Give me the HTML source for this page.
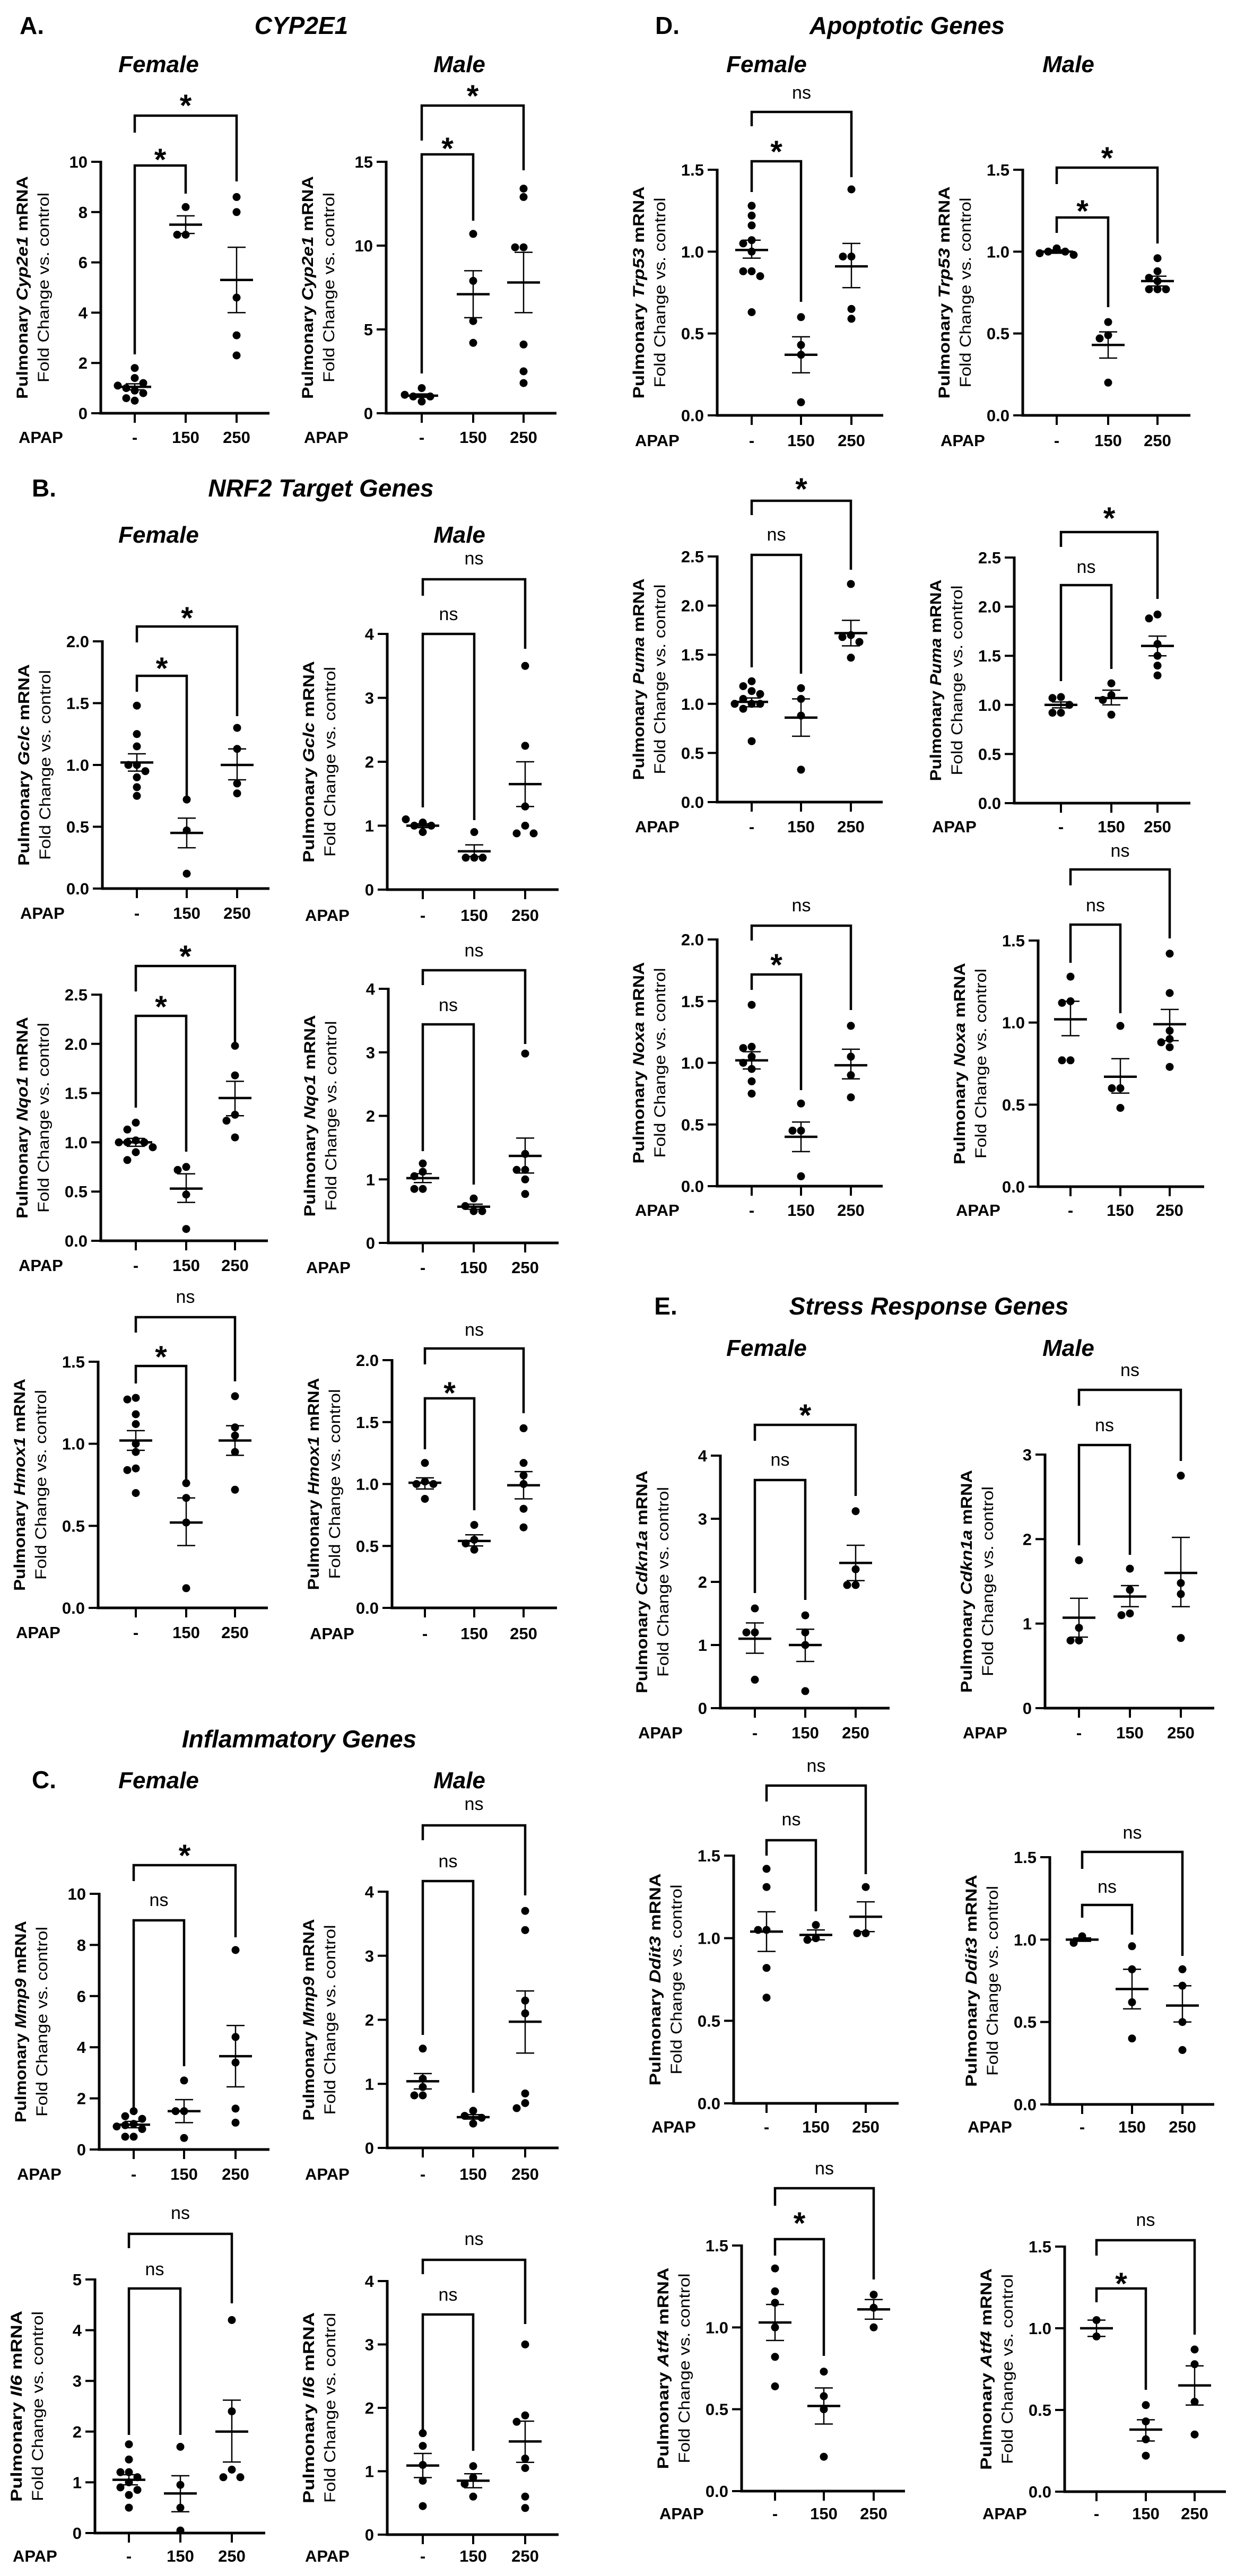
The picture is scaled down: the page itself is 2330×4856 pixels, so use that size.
<!DOCTYPE html>
<html><head><meta charset="utf-8">
<style>
html,body{margin:0;padding:0;background:#fff;}
svg{display:block;}
text{font-family:"Liberation Sans",Arial,sans-serif;fill:#000;}
</style></head>
<body>
<svg id="s" xmlns="http://www.w3.org/2000/svg" width="2330" height="4856" viewBox="0 0 2330 4856">
<rect width="2330" height="4856" fill="#fff"/>
<g font-weight="bold" font-size="46">
<text x="60" y="64" text-anchor="middle">A.</text>
<text x="568" y="64" text-anchor="middle" font-style="italic">CYP2E1</text>
<text x="83" y="936" text-anchor="middle">B.</text>
<text x="605" y="936" text-anchor="middle" font-style="italic">NRF2 Target Genes</text>
<text x="564" y="3294" text-anchor="middle" font-style="italic">Inflammatory Genes</text>
<text x="83" y="3371" text-anchor="middle">C.</text>
<text x="1258" y="64" text-anchor="middle">D.</text>
<text x="1710" y="64" text-anchor="middle" font-style="italic">Apoptotic Genes</text>
<text x="1255" y="2478" text-anchor="middle">E.</text>
<text x="1751" y="2478" text-anchor="middle" font-style="italic">Stress Response Genes</text>
</g>
<g font-weight="bold" font-style="italic" font-size="44" text-anchor="middle">
<text x="299" y="136">Female</text><text x="866" y="136">Male</text>
<text x="299" y="1023">Female</text><text x="866" y="1023">Male</text>
<text x="299" y="3371">Female</text><text x="866" y="3371">Male</text>
<text x="1445" y="136">Female</text><text x="2014" y="136">Male</text>
<text x="1445" y="2556">Female</text><text x="2014" y="2556">Male</text>
</g>
<g id="charts"></g>
</svg>
<script>
var C=[
{g:'Cyp2e1',ax:190,y0:779,tv:10,ty:305,st:2,d:0,c:[254,350,446],e:508,ap:824,
 p:[[0.5,0.6,0.8,0.9,1.0,1.1,1.2,1.4,1.8],[7.1,7.1,8.2],[8.6,8.0,4.6,3.1,2.3]],m:[[1.05,0.93,1.17],[7.5,7.15,7.85],[5.3,4.0,6.6]],
 b:[[1,312,668,365,'*',291],[2,218,250,342,'*',189]]},
{g:'Cyp2e1',ax:728,y0:779,tv:15,ty:305,st:5,d:0,c:[795,892,987],e:1049,ap:824,
 p:[[0.7,1.0,1.0,1.1,1.5],[10.7,7.9,5.5,4.2],[13.4,12.9,9.9,9.9,4.1,2.5,1.8]],m:[[1.05,0.95,1.15],[7.1,5.7,8.5],[7.8,6.0,9.6]],
 b:[[1,291,704,416,'*',270],[2,199,265,321,'*',171]]},
{g:'Gclc',ax:193,y0:1675,tv:2,ty:1209,st:0.5,d:1,c:[258,352,447],e:508,ap:1721,
 p:[[1.48,1.25,1.15,1.0,1.0,0.95,0.9,0.82,0.75],[0.72,0.47,0.12],[1.3,1.13,0.85,0.77]],m:[[1.02,0.95,1.09],[0.45,0.33,0.57],[1.0,0.88,1.13]],
 b:[[1,1274,1304,1502,'*',1250],[2,1181,1211,1350,'*',1155]]},
{g:'Gclc',ax:730,y0:1677,tv:4,ty:1195,st:1,d:0,c:[797,894,990],e:1053,ap:1725,
 p:[[0.9,1.0,1.0,1.05,1.1],[0.9,0.5,0.5,0.5],[3.5,2.25,1.3,1.0,0.88,0.88]],m:[[1.0,0.97,1.03],[0.6,0.52,0.7],[1.65,1.3,2.0]],
 b:[[1,1195,1522,1546,'ns',1159],[2,1092,1123,1223,'ns',1054]]},
{g:'Nqo1',ax:190,y0:2339,tv:2.5,ty:1875,st:0.5,d:1,c:[256,351,443],e:505,ap:2385,
 p:[[1.2,1.13,1.02,1.0,1.0,1.0,0.95,0.9,0.82],[0.75,0.72,0.47,0.12],[1.98,1.68,1.28,1.22,1.05]],m:[[1.0,0.96,1.04],[0.53,0.39,0.68],[1.45,1.27,1.62]],
 b:[[1,1915,2088,2171,'*',1888],[2,1821,1869,1972,'*',1793]]},
{g:'Nqo1',ax:732,y0:2343,tv:4,ty:1864,st:1,d:0,c:[797,893,990],e:1053,ap:2389,
 p:[[1.25,1.12,1.05,0.85,0.85],[0.7,0.58,0.5,0.5],[2.98,1.4,1.15,1.15,1.0,0.77]],m:[[1.02,0.95,1.09],[0.57,0.53,0.61],[1.37,1.1,1.65]],
 b:[[1,1931,2170,2233,'ns',1896],[2,1829,1857,1968,'ns',1793]]},
{g:'Hmox1',ax:185,y0:3031,tv:1.5,ty:2567,st:0.5,d:1,c:[256,351,443],e:505,ap:3077,
 p:[[1.28,1.27,1.18,1.12,1.0,0.95,0.85,0.84,0.7],[0.76,0.67,0.52,0.12],[1.29,1.1,1.05,0.95,0.72]],m:[[1.02,0.96,1.08],[0.52,0.38,0.67],[1.02,0.93,1.11]],
 b:[[1,2575,2608,2795,'*',2548],[2,2483,2512,2604,'ns',2446]]},
{g:'Hmox1',ax:739,y0:3031,tv:2,ty:2564,st:0.5,d:1,c:[801,894,987],e:1050,ap:3079,
 p:[[1.17,1.02,1.0,1.0,0.88],[0.67,0.55,0.52,0.47],[1.45,1.17,1.07,1.0,0.8,0.65]],m:[[1.01,0.96,1.05],[0.54,0.5,0.59],[0.99,0.88,1.1]],
 b:[[1,2636,2732,2847,'*',2616],[2,2542,2572,2664,'ns',2508]]},
{g:'Mmp9',ax:187,y0:4052,tv:10,ty:3570,st:2,d:0,c:[252,347,444],e:508,ap:4098,
 p:[[1.5,1.3,1.2,1.0,0.95,0.9,0.8,0.5,0.5],[2.7,1.5,1.5,0.45],[7.8,4.4,3.4,1.6,1.05]],m:[[0.97,0.85,1.1],[1.5,1.05,1.95],[3.65,2.45,4.85]],
 b:[[1,3620,3975,3895,'ns',3583],[2,3516,3546,3652,'*',3488]]},
{g:'Mmp9',ax:730,y0:4049,tv:4,ty:3566,st:1,d:0,c:[797,892,990],e:1053,ap:4098,
 p:[[1.55,1.08,0.95,0.82,0.82],[0.58,0.5,0.47,0.38],[3.7,3.4,2.3,2.1,0.85,0.7,0.62]],m:[[1.04,0.92,1.16],[0.48,0.45,0.52],[1.97,1.48,2.45]],
 b:[[1,3546,3836,3945,'ns',3510],[2,3441,3469,3573,'ns',3402]]},
{g:'Il6',ax:179,y0:4775,tv:5,ty:4297,st:1,d:0,c:[243,340,437],e:500,ap:4818,
 p:[[1.75,1.45,1.2,1.2,1.1,1.0,0.9,0.85,0.75,0.5],[1.7,0.95,0.5,0.05],[4.2,2.4,1.25,1.1,1.1]],m:[[1.05,0.95,1.15],[0.78,0.42,1.13],[2.0,1.4,2.62]],
 b:[[1,4314,4590,4590,'ns',4279],[2,4211,4238,4342,'ns',4173]]},
{g:'Il6',ax:730,y0:4778,tv:4,ty:4300,st:1,d:0,c:[797,892,990],e:1053,ap:4818,
 p:[[1.6,1.4,1.1,0.85,0.45],[1.08,0.9,0.8,0.6],[3.0,1.88,1.78,1.2,1.05,0.6,0.42]],m:[[1.09,0.9,1.28],[0.85,0.74,0.96],[1.47,1.14,1.79]],
 b:[[1,4363,4580,4620,'ns',4327],[2,4260,4287,4381,'ns',4222]]},
{g:'Trp53',ax:1352,y0:783,tv:1.5,ty:320,st:0.5,d:1,c:[1417,1510,1605],e:1665,ap:830,
 p:[[1.28,1.22,1.16,1.07,1.05,1.0,0.88,0.88,0.85,0.63],[0.6,0.43,0.37,0.08],[1.38,0.97,0.97,0.65,0.59]],m:[[1.01,0.96,1.07],[0.37,0.26,0.48],[0.91,0.78,1.05]],
 b:[[1,304,362,569,'*',276],[2,211,238,334,'ns',176]]},
{g:'Trp53',ax:1928,y0:783,tv:1.5,ty:320,st:0.5,d:1,c:[1992,2089,2182],e:2244,ap:830,
 p:[[1.02,1.0,1.0,0.99,0.98],[0.57,0.49,0.47,0.2],[0.96,0.88,0.84,0.82,0.77,0.77,0.77]],m:[[1.0,0.99,1.01],[0.43,0.35,0.51],[0.82,0.79,0.85]],
 b:[[1,410,439,579,'*',388],[2,316,347,459,'*',288]]},
{g:'Puma',ax:1352,y0:1512,tv:2.5,ty:1049,st:0.5,d:1,c:[1417,1510,1604],e:1664,ap:1558,
 p:[[1.23,1.18,1.13,1.1,1.05,1.0,1.0,1.0,0.95,0.62],[1.16,1.05,0.88,0.33],[2.22,1.7,1.68,1.63,1.47]],m:[[1.02,0.97,1.06],[0.86,0.67,1.05],[1.72,1.59,1.85]],
 b:[[1,1046,1258,1270,'ns',1009],[2,944,971,1074,'*',912]]},
{g:'Puma',ax:1912,y0:1514,tv:2.5,ty:1051,st:0.5,d:1,c:[2000,2095,2182],e:2244,ap:1558,
 p:[[1.08,1.07,1.0,0.92,0.92],[1.22,1.1,1.05,0.9],[1.92,1.88,1.62,1.5,1.4,1.3]],m:[[1.0,0.97,1.03],[1.07,1.0,1.15],[1.6,1.5,1.7]],
 b:[[1,1103,1284,1261,'ns',1070],[2,1003,1031,1129,'*',967]]},
{g:'Noxa',ax:1352,y0:2236,tv:2,ty:1771,st:0.5,d:1,c:[1417,1510,1604],e:1664,ap:2281,
 p:[[1.47,1.13,1.12,1.05,1.0,0.95,0.85,0.75],[0.67,0.45,0.45,0.08],[1.3,1.05,0.9,0.72]],m:[[1.02,0.95,1.09],[0.4,0.28,0.52],[0.98,0.87,1.11]],
 b:[[1,1837,1866,2055,'*',1809],[2,1745,1773,1904,'ns',1708]]},
{g:'Noxa',ax:1957,y0:2237,tv:1.5,ty:1773,st:0.5,d:1,c:[2018,2112,2205],e:2270,ap:2281,
 p:[[1.28,1.13,1.12,0.77,0.77],[0.98,0.6,0.6,0.48],[1.42,1.18,0.95,0.9,0.88,0.85,0.73]],m:[[1.02,0.92,1.13],[0.67,0.57,0.78],[0.99,0.89,1.08]],
 b:[[1,1743,1815,1910,'ns',1708],[2,1639,1669,1769,'ns',1605]]},
{g:'Cdkn1a',ax:1358,y0:3220,tv:4,ty:2744,st:1,d:0,c:[1423,1518,1613],e:1677,ap:3266,
 p:[[1.58,1.2,1.2,0.45],[1.47,1.2,1.0,0.27],[3.12,2.2,1.95,1.95]],m:[[1.1,0.87,1.35],[1.0,0.74,1.25],[2.3,2.02,2.58]],
 b:[[1,2790,3003,3016,'ns',2753],[2,2686,2716,2820,'*',2658]]},
{g:'Cdkn1a',ax:1970,y0:3220,tv:3,ty:2742,st:1,d:0,c:[2034,2130,2226],e:2289,ap:3266,
 p:[[1.75,0.95,0.8,0.8],[1.65,1.4,1.12,1.1],[2.75,1.48,1.35,0.83]],m:[[1.07,0.84,1.3],[1.32,1.2,1.45],[1.6,1.2,2.02]],
 b:[[1,2724,2913,2931,'ns',2688],[2,2620,2650,2754,'ns',2584]]},
{g:'Ddit3',ax:1383,y0:3965,tv:1.5,ty:3498,st:0.5,d:1,c:[1445,1538,1632],e:1694,ap:4009,
 p:[[1.42,1.31,1.05,1.05,0.82,0.64],[1.08,1.0,0.99],[1.31,1.03,1.03]],m:[[1.04,0.92,1.16],[1.02,0.99,1.05],[1.13,1.04,1.22]],
 b:[[1,3469,3498,3603,'ns',3431],[2,3366,3396,3533,'ns',3330]]},
{g:'Ddit3',ax:1979,y0:3967,tv:1.5,ty:3501,st:0.5,d:1,c:[2040,2134,2229],e:2289,ap:4009,
 p:[[1.02,0.98],[0.96,0.82,0.62,0.4],[0.82,0.72,0.5,0.33]],m:[[1.0,0.99,1.01],[0.7,0.58,0.82],[0.6,0.5,0.72]],
 b:[[1,3591,3615,3647,'ns',3558],[2,3491,3523,3687,'ns',3456]]},
{g:'Atf4',ax:1398,y0:4696,tv:1.5,ty:4233,st:0.5,d:1,c:[1461,1553,1647],e:1706,ap:4738,
 p:[[1.36,1.22,1.15,1.0,0.82,0.64],[0.73,0.58,0.5,0.21],[1.2,1.12,1.0]],m:[[1.03,0.92,1.14],[0.52,0.41,0.63],[1.11,1.05,1.17]],
 b:[[1,4221,4252,4441,'*',4181],[2,4125,4158,4297,'ns',4089]]},
{g:'Atf4',ax:2007,y0:4697,tv:1.5,ty:4235,st:0.5,d:1,c:[2067,2160,2252],e:2311,ap:4738,
 p:[[1.05,0.95],[0.53,0.43,0.32,0.22],[0.87,0.78,0.55,0.35]],m:[[1.0,0.95,1.05],[0.38,0.31,0.44],[0.65,0.53,0.77]],
 b:[[1,4314,4340,4505,'*',4295],[2,4223,4252,4401,'ns',4186]]}
];
var o=[];
function L(x1,y1,x2,y2,w){o.push('<line x1="'+x1+'" y1="'+y1+'" x2="'+x2+'" y2="'+y2+'" stroke="#000" stroke-width="'+w+'"/>');}
function T(x,y,s,a){o.push('<text x="'+x+'" y="'+y+'" '+a+'>'+s+'</text>');}
C.forEach(function(k){
 var sc=(k.y0-k.ty)/k.tv; function Y(v){return k.y0-v*sc;}
 // axes
 o.push('<path d="M'+k.ax+' '+(k.ty-2)+'V'+k.y0+'H'+k.e+'" fill="none" stroke="#000" stroke-width="5"/>');
 for(var v=0;v<=k.tv+1e-9;v+=k.st){var y=Y(v);L(k.ax-18,y,k.ax,y,4);
  T(k.ax-25,y+11,v.toFixed(k.d),'font-size="31" font-weight="bold" text-anchor="end"');}
 k.c.forEach(function(x){L(x,k.y0,x,k.y0+18,4);});
 T(k.ax-155,k.ap+11,'APAP','font-size="31" font-weight="bold"');
 ['-','150','250'].forEach(function(s,i){T(k.c[i],k.ap+11,s,'font-size="31" font-weight="bold" text-anchor="middle"');});
 // y label
 var mid=(k.ty+k.y0)/2, n1=('Pulmonary '+k.g+' mRNA').length;
 o.push('<text transform="translate('+(k.ax-138)+','+mid+') rotate(-90)" text-anchor="middle" font-size="30" font-weight="bold" textLength="'+(n1*20)+'" lengthAdjust="spacingAndGlyphs">Pulmonary <tspan font-style="italic">'+k.g+'</tspan> mRNA</text>');
 o.push('<text transform="translate('+(k.ax-98)+','+mid+') rotate(-90)" text-anchor="middle" font-size="30" textLength="358" lengthAdjust="spacingAndGlyphs">Fold Change vs. control</text>');
 // points
 k.p.forEach(function(g,i){
  var placed=[];
  g.forEach(function(v){var y=Y(v),offs=[0,-16,16,-32,32,-48,48],dx=0;
   for(var j=0;j<offs.length;j++){var ok=true;placed.forEach(function(q){var ddx=q[0]-offs[j],ddy=q[1]-y;if(ddx*ddx+ddy*ddy<15*15)ok=false;});if(ok){dx=offs[j];break;}}
   placed.push([dx,y]);
   o.push('<circle cx="'+(k.c[i]+dx)+'" cy="'+y.toFixed(1)+'" r="7.5" fill="#000"/>');});
  var m=k.m[i],x=k.c[i];
  L(x-31,Y(m[0]),x+31,Y(m[0]),4.5);
  L(x,Y(m[1]),x,Y(m[2]),2.5);
  L(x-17,Y(m[1]),x+17,Y(m[1]),2.5);L(x-17,Y(m[2]),x+17,Y(m[2]),2.5);
 });
 // brackets
 k.b.forEach(function(b){var x1=k.c[0],x2=k.c[b[0]];
  o.push('<path d="M'+x1+' '+b[2]+'V'+b[1]+'H'+x2+'V'+b[3]+'" fill="none" stroke="#000" stroke-width="4.5"/>');
  var lx=(x1+x2)/2;
  if(b[4]=='*')T(lx,b[5]+30,'*','font-size="58" font-weight="bold" text-anchor="middle"');
  else T(lx,b[5]+10,'ns','font-size="34" text-anchor="middle"');
 });
});
document.getElementById('charts').innerHTML=o.join('');
</script>
</body></html>
